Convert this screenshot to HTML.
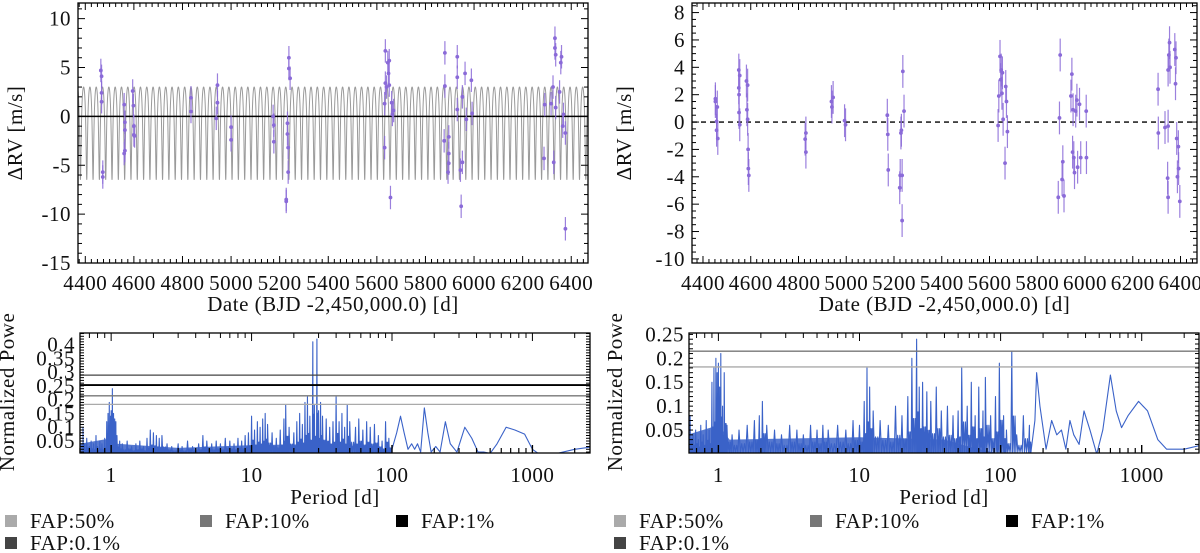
<!DOCTYPE html>
<html><head><meta charset="utf-8"><style>
html,body{margin:0;padding:0;background:#fff;}
svg{display:block;font-family:"Liberation Serif","DejaVu Serif",serif;}
text{letter-spacing:0.5px;}
</style></head><body>
<svg id="fig" width="1200" height="553" viewBox="0 0 1200 553" xmlns="http://www.w3.org/2000/svg"></svg>
<script>
// ---------- DATA ----------
const leftDates=[4464,4467,4467,4467,4472,4472,4560,4563,4563,4560,4563,4595,4598,4600,4600,4603,4835,4835,4944,4944,4939,5000,5000,5173,5176,5176,5227,5227,5232,5232,5235,5235,5238,5238,5243,5632,5635,5635,5640,5645,5648,5651,5651,5632,5656,5661,5664,5669,5880,5880,5877,5896,5896,5896,5893,5931,5931,5931,5944,5947,5952,5952,5963,5968,5989,5992,6288,6291,6317,6325,6328,6333,6333,6336,6336,6352,6357,6360,6365,6368,6376,6376];
const leftRV=[4.7,4.1,2.4,1.5,-5.7,-6.2,1.2,-0.6,-1.4,-3.8,-3.5,2.6,1.1,-1.0,-1.9,-2.0,0.5,1.9,3.2,1.4,-0.2,-1.1,-2.4,0,-0.9,-2.6,-8.5,-8.7,-0.7,-1.8,-3.2,-5.7,6.0,4.9,3.9,1.3,3.4,6.7,3.0,5.5,4.4,5.7,3.2,-3.2,-8.3,1.4,0.2,0.6,6.5,3.1,-2.5,-2.1,-3.8,-4.8,-5.7,6.1,4.0,0.7,-5.5,-9.2,2.0,-4.7,4.4,-0.3,3.7,0.3,-4.3,1.2,1.3,3.0,-4.7,8.0,7.0,6.3,0.9,2.5,5.5,6.1,-1.0,0.2,-1.7,-11.5];
const leftErr=1.2;
const modelPeriod=26.0, modelK=4.75, modelEcc=0.368, modelTp=4380;

const rightDates=[4452,4452,4457,4460,4462,4457,4550,4550,4551,4551,4554,4554,4582,4584,4587,4587,4589,4590,4592,4828,4831,4831,4938,4940,4945,4993,4997,5172,5174,5176,5224,5226,5229,5231,5234,5234,5237,5242,5636,5639,5644,5647,5649,5652,5654,5657,5665,5668,5671,5675,5888,5893,5896,5904,5907,5912,5941,5945,5948,5950,5953,5956,5961,5966,5969,5977,5982,6005,6006,6306,6307,6335,6346,6348,6348,6351,6354,6356,6376,6379,6381,6384,6387,6391,6392,6397,6348];
const rightRV=[1.7,1.5,-0.6,1.1,-1.2,0.05,2.5,3.8,2.0,0.7,3.4,-0.2,3.0,0.9,2.7,0.2,-2.0,-3.4,-3.9,-1.25,-0.8,-2.2,1.5,1.1,1.8,0.1,-0.2,0.5,-0.9,-3.5,-4.8,-3.9,-0.8,-0.6,-3.9,-7.2,3.7,0.8,-0.25,1.9,4.8,3.1,3.8,2.1,3.6,0.2,-3.0,2.6,1.5,-0.7,-5.5,0.3,4.9,-4.2,-2.9,-5.4,1.9,3.5,-2.2,0.9,-2.6,-3.7,0.8,1.6,-3.3,1.3,-2.6,0.8,-2.6,2.4,-0.8,-0.4,-4.1,-5.5,3.8,4.9,5.8,4.0,5.3,2.8,4.7,-1.2,-4.0,-1.8,-3.4,-5.8,-0.3];
const rightErr=1.2;

const rvXTicks=[4400,4600,4800,5000,5200,5400,5600,5800,6000,6200,6400];
const leftYTicks=[-15,-10,-5,0,5,10];
const rightYTicks=[-10,-8,-6,-4,-2,0,2,4,6,8];

const lpSpikeP=[0.63,0.65,0.67,0.7,0.72,0.75,0.78,0.8,0.83,0.86,0.9,0.93,0.95,0.97,0.99,1.0,1.02,1.04,1.06,1.08,1.1,1.15,1.2,1.3,1.4,1.5,1.6,1.7,1.8,1.9,2.0,2.1,2.2,2.3,2.5,2.7,3.0,3.2,3.5,3.8,4.2,4.5,4.8,5.2,5.6,6,6.5,7,7.5,8,8.5,9,9.5,10,10.5,11,11.5,12,12.5,13,14,15,16,17,17.5,18.5,20,21,22,23,24,25,26,27.3,28,29.2,30,31,32,34,36,38,40,42,44,46,48,50,55,58,62,66,70,75,80,85,90,95];
const lpSpikeV=[.10,.04,.06,.03,.05,.04,.07,.03,.05,.04,.06,.12,.15,.19,.14,.16,.24,.15,.13,.12,.07,.05,.04,.05,.03,.04,.05,.03,.06,.09,.08,.07,.06,.07,.04,.03,.04,.03,.05,.03,.04,.07,.05,.04,.05,.04,.06,.05,.04,.06,.05,.07,.08,.14,.09,.12,.10,.13,.15,.11,.08,.06,.09,.13,.18,.10,.08,.12,.15,.11,.19,.21,.14,.41,.18,.42,.16,.19,.14,.13,.10,.12,.21,.12,.15,.10,.18,.12,.10,.13,.09,.12,.10,.11,.07,.05,.12,.06];
const lpSmoothP=[100,108,115,122,130,138,145,152,160,170,180,190,205,220,240,260,290,330,370,410,450,500,560,650,750,880,1000,1100,1500,2000,2800];
const lpSmoothV=[.02,.08,.14,.08,.02,.04,.02,.04,.01,.17,.08,.01,.03,.01,.12,.04,.01,.10,.06,.01,.01,.005,.04,.10,.09,.075,.02,.005,.005,.02,.03];
const lpFloorP=[0.6,1,1.1,3,10,40,80,100];
const lpFloorV=[.04,.06,.04,.025,.035,.04,.02,0];
const lpFAP=[0.289,0.253,0.214,0.183];
const lpFAPColors=['#444','#000','#777','#aaa'];

const rpSpikeP=[0.63,0.66,0.69,0.72,0.75,0.78,0.82,0.86,0.9,0.93,0.96,0.98,1.0,1.02,1.04,1.07,1.1,1.15,1.25,1.4,1.6,1.8,1.95,2.05,2.2,2.5,2.8,3.2,3.6,4.0,4.5,5,5.5,6,7,8,9,10,10.8,11.3,11.8,12.5,14,16,18,20,22,23.5,25.4,26.5,28,30,32,35,38,42,46,50,53,58,62,66,70,75,78,85,92,98,105,110,120,130,145,160];
const rpSpikeV=[.08,.04,.05,.03,.06,.04,.07,.05,.15,.18,.20,.17,.19,.14,.21,.10,.17,.06,.04,.05,.06,.07,.08,.11,.06,.05,.04,.06,.05,.04,.06,.05,.06,.05,.06,.05,.07,.06,.11,.18,.14,.09,.07,.06,.10,.08,.12,.20,.24,.14,.15,.13,.11,.14,.09,.10,.08,.09,.18,.10,.15,.08,.14,.09,.16,.08,.12,.19,.08,.05,.215,.04,.08,.06];
const rpSmoothP=[165,175,180,190,210,230,250,270,290,310,330,360,390,430,480,530,600,660,720,800,950,1100,1300,1500,2000,2800];
const rpSmoothV=[.01,.07,.17,.10,.01,.07,.04,.05,.01,.07,.04,.02,.09,.05,0,.05,.165,.09,.055,.08,.11,.09,.03,.01,.01,.02];
const rpFloorP=[0.6,1,1.2,10,40,60,100];
const rpFloorV=[.04,.06,.03,.035,.03,.015,0];
const rpFAP=[0.215,0.182];
const rpFAPColors=['#777','#aaa'];

const legendLabels=['FAP:50%','FAP:10%','FAP:1%','FAP:0.1%'];
const legendColors=['#aaa','#777','#000','#444'];

// ---------- DRAWING ----------
const NS='http://www.w3.org/2000/svg';
const svg=document.getElementById('fig');
function mk(tag,parent){const e=document.createElementNS(NS,tag);(parent||svg).appendChild(e);return e;}
function setA(e,o){for(const k in o)e.setAttribute(k,o[k]);}
const PURPLE='#8a6ad8', BLUE='#3a62c8';
const FS=21;

function linScale(d0,d1,r0,r1){return v=>r0+(v-d0)*(r1-r0)/(d1-d0);}
function logScale(d0,d1,r0,r1){const a=Math.log10(d0),b=Math.log10(d1);return v=>r0+(Math.log10(v)-a)*(r1-r0)/(b-a);}

function frame(g,x0,y0,x1,y1){
  const r=mk('rect',g);
  
  
  setA(r,{x:x0,y:y0,width:x1-x0,height:y1-y0,fill:'none',stroke:'#000','stroke-width':1.3});
}
function tick(g,x1,y1,x2,y2,w){const l=mk('line',g);setA(l,{x1,y1,x2,y2,stroke:'#000','stroke-width':w||1});}
function label(g,x,y,txt,anchor,size){const t=mk('text',g);setA(t,{x,y,'text-anchor':anchor||'middle','font-size':size||FS,fill:'#111'});t.textContent=txt;return t;}

function rvPanel(name,P,dates,rv,err,yTicks,yMinorStep,model,dashedZero){
  const g=mk('g');
  
  
  const sx=linScale(P.xmin,P.xmax,P.x0,P.x1), sy=linScale(P.ymin,P.ymax,P.y1,P.y0);
  if(model){
    const mg=mk('g',g);
    
    
    let d='';
    for(let t=P.xmin;t<=P.xmax;t+=0.5){
      let M=2*Math.PI*(t-model.tp)/model.P;M=((M%(2*Math.PI))+2*Math.PI)%(2*Math.PI);
      let E=M;for(let i=0;i<12;i++)E=E-(E-model.e*Math.sin(E)-M)/(1-model.e*Math.cos(E));
      const nu=2*Math.atan2(Math.sqrt(1+model.e)*Math.sin(E/2),Math.sqrt(1-model.e)*Math.cos(E/2));
      const v=-model.K*(Math.cos(nu)+model.e);
      d+=(d?'L':'M')+sx(t).toFixed(2)+','+sy(v).toFixed(2);
    }
    const p=mk('path',mg);setA(p,{d,fill:'none',stroke:'#9a9a9a','stroke-width':1});
  }
  const z=mk('line',g);
  
  
  setA(z,{x1:P.x0,x2:P.x1,y1:sy(0),y2:sy(0),stroke:'#000','stroke-width':dashedZero?1.3:1.6});
  if(dashedZero)z.setAttribute('stroke-dasharray','5,4');
  const pg=mk('g',g);
  
  
  for(let i=0;i<dates.length;i++){
    const x=sx(dates[i]),y=sy(rv[i]);
    const eb=mk('line',pg);
    
    
    setA(eb,{x1:x,x2:x,y1:sy(rv[i]-err),y2:sy(rv[i]+err),stroke:PURPLE,'stroke-width':1.2,opacity:0.85});
    const c=mk('circle',pg);
    
    
    setA(c,{cx:x,cy:y,r:1.9,fill:PURPLE});
  }
  frame(g,P.x0,P.y0,P.x1,P.y1);
  const tg=mk('g',g);
  
  
  for(let t=Math.ceil(P.xmin/25)*25;t<=P.xmax;t+=25){
    const x=sx(t),L=(t%200===0)?7:4;
    tick(tg,x,P.y1,x,P.y1-L);tick(tg,x,P.y0,x,P.y0+L);
  }
  for(let v=Math.ceil(P.ymin/yMinorStep)*yMinorStep;v<=P.ymax;v+=yMinorStep){
    const y=sy(v),L=(yTicks.indexOf(Math.round(v*100)/100)>=0)?7:4;
    tick(tg,P.x0,y,P.x0+L,y);tick(tg,P.x1,y,P.x1-L,y);
  }
  const xl=mk('g',g);
  
  
  rvXTicks.forEach(t=>label(xl,sx(t),290,String(t)));
  const yl=mk('g',g);
  
  
  yTicks.forEach(v=>label(yl,P.x0-7,sy(v)+7,String(v),'end'));
  const xt=label(g,(P.x0+P.x1)/2,311,'Date (BJD -2,450,000.0) [d]');
  
  
  const yt=label(g,P.ylabX,133,'ΔRV [m/s]');
  yt.setAttribute('transform','rotate(-90 '+P.ylabX+' 133)');
  
  
}

function pgPanel(name,P,spP,spV,smP,smV,flP,flV,fap,fapCols,yTicks,yTickTxt){
  const g=mk('g');
  
  
  const sx=logScale(P.xmin,P.xmax,P.x0,P.x1), sy=linScale(P.ymin,P.ymax,P.y1,P.y0);
  const cp=mk('clipPath',g);cp.setAttribute('id',name+'-clip');
  const cr=mk('rect',cp);setA(cr,{x:P.x0,y:P.y0,width:P.x1-P.x0,height:P.y1-P.y0});
  const inner=mk('g',g);inner.setAttribute('clip-path','url(#'+name+'-clip)');
  let fd='M'+sx(flP[0])+','+P.y1;
  for(let i=0;i<flP.length;i++)fd+='L'+sx(flP[i]).toFixed(2)+','+sy(flV[i]).toFixed(2);
  fd+='L'+sx(flP[flP.length-1])+','+P.y1+'Z';
  const fl=mk('path',inner);
  
  
  setA(fl,{d:fd,fill:BLUE,opacity:0.85});
  let d='M'+sx(spP[0]).toFixed(2)+','+sy(0.01).toFixed(2);
  for(let i=0;i<spP.length;i++){
    const x=sx(spP[i]);
    d+='L'+(x).toFixed(2)+','+sy(spV[i]).toFixed(2);
    const nx=i<spP.length-1?sx(spP[i+1]):sx(smP[0]);
    const step=(nx-x)/6;
    for(let k=1;k<6;k++){d+='L'+(x+k*step).toFixed(2)+','+sy(k%2?0.004:spV[i]*0.35+0.004).toFixed(2);}
  }
  for(let i=0;i<smP.length;i++){
    if(i>0){const m=Math.sqrt(smP[i-1]*smP[i]);d+='Q'+sx(m).toFixed(2)+','+sy((smV[i-1]+smV[i])/2).toFixed(2)+' ';}
    else d+='L';
    d+=sx(smP[i]).toFixed(2)+','+sy(smV[i]).toFixed(2);
  }
  const ln=mk('path',inner);
  
  
  setA(ln,{d,fill:'none',stroke:BLUE,'stroke-width':1.1,'stroke-linejoin':'round'});
  for(let i=0;i<fap.length;i++){
    const f=mk('line',inner);
    
    
    setA(f,{x1:P.x0,x2:P.x1,y1:sy(fap[i]),y2:sy(fap[i]),stroke:fapCols[i],'stroke-width':fapCols[i]==='#000'?1.8:1.3});
  }
  frame(g,P.x0,P.y0,P.x1,P.y1);
  const tg=mk('g',g);
  
  
  for(let dec=-1;dec<=4;dec++){
    for(let m=1;m<10;m++){
      const v=m*Math.pow(10,dec); if(v<P.xmin||v>P.xmax)continue;
      const x=sx(v),L=m===1?8:5;
      tick(tg,x,P.y1,x,P.y1-L,m===1?1.4:1.2);tick(tg,x,P.y0,x,P.y0+L);
    }
  }
  for(let v=0.01;v<=P.ymax;v+=0.01){
    const y=sy(v);tick(tg,P.x0,y,P.x0+4,y);tick(tg,P.x1,y,P.x1-4,y);
  }
  const xl=mk('g',g);
  
  
  [1,10,100,1000].forEach(v=>label(xl,sx(v),482,String(v)));
  const yl=mk('g',g);
  
  
  yTicks.forEach((v,i)=>label(yl,P.x0-5,sy(v)+7,yTickTxt[i],'end'));
  const xt=label(g,(P.x0+P.x1)/2,504,'Period [d]');
  
  
  const yt=label(g,P.ylabX,392,'Normalized Powe');
  yt.setAttribute('transform','rotate(-90 '+P.ylabX+' 392)');
  
  
}

function legend(name,xs,rowY){
  const g=mk('g');
  
  
  for(let i=0;i<legendLabels.length;i++){
    const x=xs[i%3], y=rowY[Math.floor(i/3)];
    const e=mk('g',g);
    
    
    const r=mk('rect',e);setA(r,{x:x,y:y-6,width:12,height:12,fill:legendColors[i]});
    label(e,x+25,y+7,legendLabels[i],'start');
  }
}

rvPanel('rv-plot-with-model',{x0:78,x1:588,y0:3,y1:263,xmin:4370,xmax:6469,ymin:-15,ymax:11.6,ylabX:22},
  leftDates,leftRV,leftErr,leftYTicks,1,{P:modelPeriod,K:modelK,e:modelEcc,tp:modelTp},false);
rvPanel('rv-residuals-plot',{x0:692,x1:1197,y0:3,y1:263,xmin:4354,xmax:6469,ymin:-10.3,ymax:8.7,ylabX:631},
  rightDates,rightRV,rightErr,rightYTicks,0.5,null,true);
pgPanel('periodogram-left',{x0:80,x1:590,y0:333,y1:453,xmin:0.6,xmax:2571,ymin:0.0065,ymax:0.442,ylabX:14},
  lpSpikeP,lpSpikeV,lpSmoothP,lpSmoothV,lpFloorP,lpFloorV,lpFAP,lpFAPColors,
  [0.05,0.1,0.15,0.2,0.25,0.3,0.35,0.4],['0.05','0.1','0.15','0.2','0.25','0.3','0.35','0.4']);
pgPanel('periodogram-right',{x0:689,x1:1199,y0:333,y1:453,xmin:0.619,xmax:2547,ymin:0.002,ymax:0.253,ylabX:622},
  rpSpikeP,rpSpikeV,rpSmoothP,rpSmoothV,rpFloorP,rpFloorV,rpFAP,rpFAPColors,
  [0.05,0.1,0.15,0.2,0.25],['0.05','0.1','0.15','0.2','0.25']);
legend('legend-left',[5,200,396],[521,543]);
legend('legend-right',[614,810,1006],[521,543]);
</script>
</body></html>
